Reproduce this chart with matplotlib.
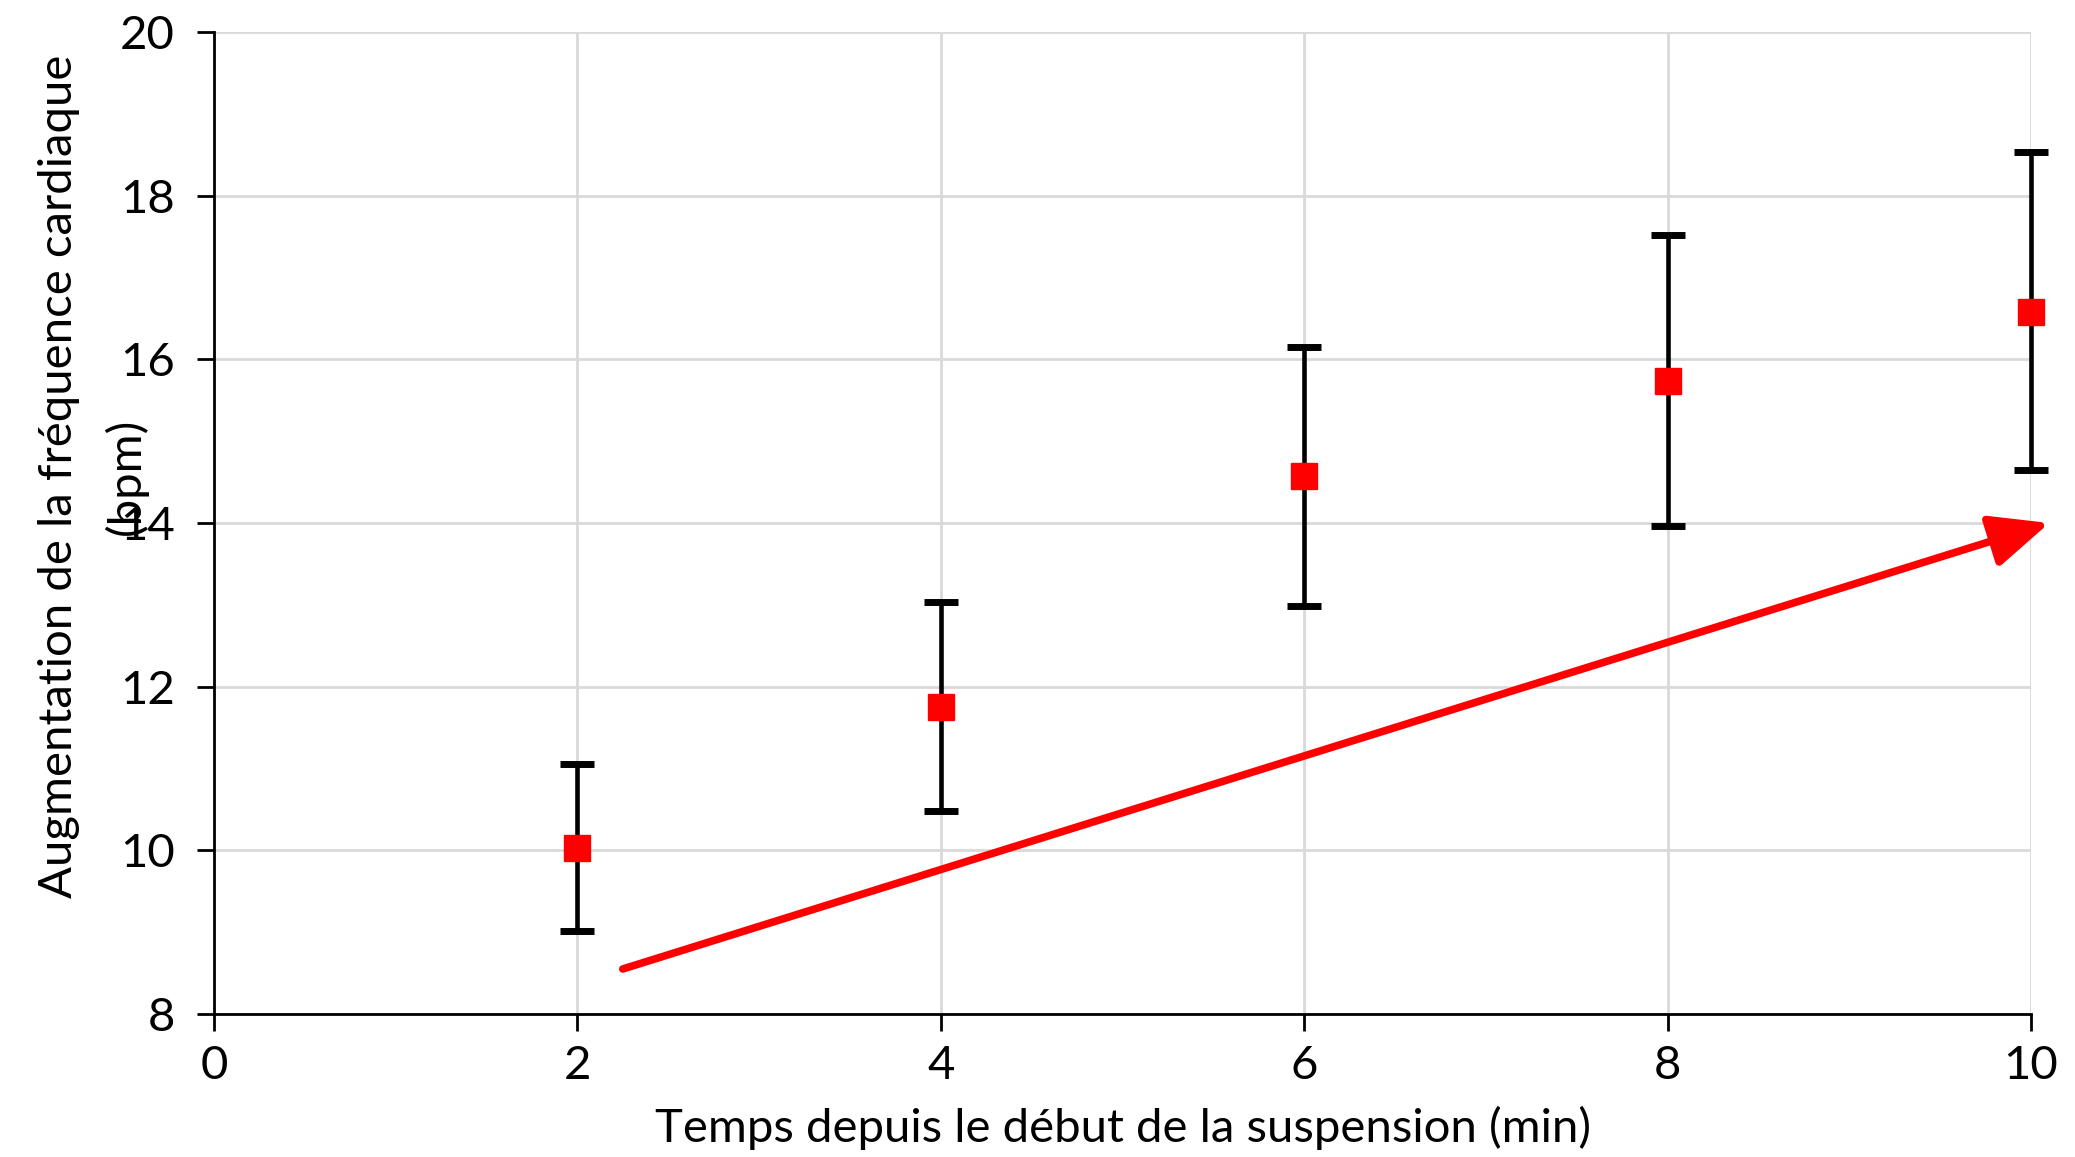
import matplotlib.pyplot as plt

# données
temps = [2, 4, 6, 8, 10]
moyenne = [10.03, 11.75, 14.57, 15.74, 16.58]
err_bas = [9.02, 10.48, 12.99, 13.96, 14.65]
err_haut = [11.05, 13.03, 16.15, 17.52, 18.53]
fleche_debut = (2.25, 8.55)
fleche_fin = (10.1, 14.0)

plt.rcParams['font.family'] = ['Lato', 'DejaVu Sans']

fig = plt.figure(figsize=(20.75, 11.57), dpi=100)
ax = fig.add_axes([0.1031, 0.1236, 0.8757, 0.8487])

yerr = [[m - b for m, b in zip(moyenne, err_bas)],
        [h - m for m, h in zip(moyenne, err_haut)]]
eb = ax.errorbar(temps, moyenne, yerr=yerr, fmt='s', color='red', markersize=19,
                 ecolor='black', elinewidth=3.3, capsize=12, capthick=5, zorder=3)
for art in eb.get_children():
    art.set_clip_on(False)

ax.annotate('', xy=fleche_fin, xytext=fleche_debut, annotation_clip=False,
            arrowprops=dict(arrowstyle='-|>,head_length=3.6,head_width=1.6',
                            mutation_scale=10, color='red', lw=5.5,
                            shrinkA=0, shrinkB=0), zorder=4)

ax.set_xlim(0, 10)
ax.set_ylim(8, 20)
ax.set_xticks(range(0, 11, 2))
ax.set_yticks(range(8, 21, 2))
ax.grid(True, color='#d9d9d9', lw=2)
ax.set_axisbelow(True)
for s in ['top', 'right']:
    ax.spines[s].set_visible(False)
for s in ['left', 'bottom']:
    ax.spines[s].set_linewidth(2)
ax.tick_params(labelsize=34, length=12, width=2)
ax.tick_params(axis='x', pad=10)
ax.tick_params(axis='y', pad=16)

fig.text(0.5410, 0.013, 'Temps depuis le début de la suspension (min)', fontsize=34,
         ha='center', va='baseline')
# titre de l'axe y sur deux lignes (la 2e chevauche le 14 comme sur l'original)
fig.text(0.0285, 0.588, 'Augmentation de la fréquence cardiaque', rotation=90,
         fontsize=34, ha='center', va='center')
fig.text(0.0605, 0.588, '(bpm)', rotation=90,
         fontsize=34, ha='center', va='center')

fig.savefig('out.png', dpi=100)
